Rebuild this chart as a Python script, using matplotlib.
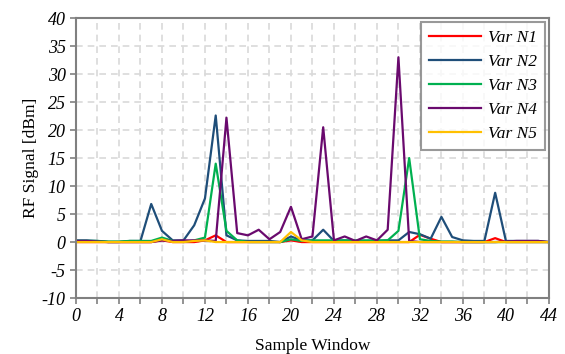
import matplotlib
matplotlib.use("Agg")
import matplotlib.pyplot as plt
from matplotlib import font_manager as fm
import numpy as np

# sample index 0..44
samples = list(range(45))

var_n1 = [0, 0, 0, 0, 0, 0, 0, 0, 0.3, 0, 0, 0, 0.3, 1.2, 0, 0, 0, 0, 0, 0,
          0.3, 0, 0, 0, 0, 0, 0, 0, 0, 0, 0, 0, 1.3, 0.6, 0, 0, 0, 0, 0, 0.7,
          0, 0, 0, 0, 0]
var_n2 = [0.3, 0.3, 0.2, 0, 0, 0.2, 0.2, 6.8, 2.0, 0.3, 0.3, 3.0, 7.8, 22.6, 1.2, 0.3,
          0.2, 0.2, 0.2, 0, 1.0, 0.3, 0.3, 2.2, 0.2, 0.3, 0.2, 0.2, 0.2, 0.3,
          0.3, 1.8, 1.4, 0.6, 4.5, 0.9, 0.3, 0.2, 0.2, 8.8, 0.2, 0.2, 0.2, 0.2, 0]
var_n3 = [0.2, 0.2, 0.2, 0.1, 0.1, 0.2, 0.2, 0.2, 0.8, 0.2, 0, 0.3, 0.8, 14.0, 2.0, 0.3,
          0, 0, 0, 0, 0.5, 0.2, 0.3, 0.3, 0.3, 0.3, 0.3, 0.3, 0.3, 0.3,
          2.0, 15.0, 0.5, 0.2, 0.1, 0.1, 0, 0, 0, 0, 0, 0, 0, 0, 0]
var_n4 = [0.2, 0.2, 0.1, 0, 0, 0, 0, 0, 0.3, 0.2, 0.3, 0.3, 0.3, 0.2, 22.2, 1.6,
          1.2, 2.2, 0.5, 1.8, 6.3, 0.5, 1.0, 20.5, 0.3, 1.0, 0.2, 1.0, 0.3, 2.2,
          33.0, 0.2, 0, 0, 0, 0, 0, 0, 0, 0, 0.1, 0.2, 0.2, 0.2, 0]
var_n5 = [0, 0, 0, 0, 0, 0, 0, 0, 0.5, 0, 0, 0.2, 0.3, 0, 0, 0, 0, 0, 0, 0,
          1.8, 0.3, 0, 0, 0, 0, 0, 0, 0, 0, 0, 0, 0, 0, 0, 0, 0, 0, 0, 0,
          0, 0, 0, 0, 0]

series = [
    ("Var N1", var_n1, "#ff0000"),
    ("Var N2", var_n2, "#1f4e79"),
    ("Var N3", var_n3, "#00b050"),
    ("Var N4", var_n4, "#6a0a6e"),
    ("Var N5", var_n5, "#ffc000"),
]

x_ticks = list(range(0, 45, 4))
y_ticks = list(range(-10, 41, 5))

plt.rcParams["font.family"] = ["Liberation Serif", "DejaVu Serif"]
plt.rcParams["axes.unicode_minus"] = False

# italic serif face, picked by file so the slant is sure to show
ital_path = None
for f in fm.fontManager.ttflist:
    if f.fname.endswith("LiberationSerif-Italic.ttf"):
        ital_path = f.fname
        break
if ital_path:
    def ital(size):
        return fm.FontProperties(fname=ital_path, size=size)
else:
    def ital(size):
        return fm.FontProperties(family="serif", style="italic", size=size)

fig = plt.figure(figsize=(5.65, 3.54), dpi=100)
ax = fig.add_axes([0.1345, 0.158, 0.837, 0.791])

for label, vals, color in series:
    ax.plot(samples, vals, color=color, linewidth=1.6, label=label)

ax.set_xlim(0, 44)
ax.set_ylim(-10, 40)
ax.set_xticks(x_ticks, labels=[str(v) for v in x_ticks], fontproperties=ital(13))
ax.set_xticks(np.arange(0, 45, 2), minor=True)
ax.set_yticks(y_ticks, labels=[str(v) for v in y_ticks], fontproperties=ital(13))
ax.tick_params(axis="both", which="both", direction="out", length=4,
               color="#808080", width=1.2)

ax.grid(which="both", color="#d9d9d9", linestyle=(0, (4, 3)), linewidth=1.2)
ax.set_axisbelow(True)
for sp in ax.spines.values():
    sp.set_color("#808080")
    sp.set_linewidth(1.5)

ax.set_xlabel("Sample Window", fontsize=12.5, labelpad=9)
ax.set_ylabel("RF Signal [dBm]", fontsize=12.5, labelpad=2)

leg = ax.legend(loc="upper right", prop=ital(12.5), frameon=True, fancybox=False,
                handlelength=3.0, handletextpad=0.4, borderpad=0.45,
                borderaxespad=0.25, labelspacing=0.45)
leg.get_frame().set_edgecolor("#808080")
leg.get_frame().set_linewidth(1.5)

fig.savefig("out.png", dpi=100, facecolor="white")
